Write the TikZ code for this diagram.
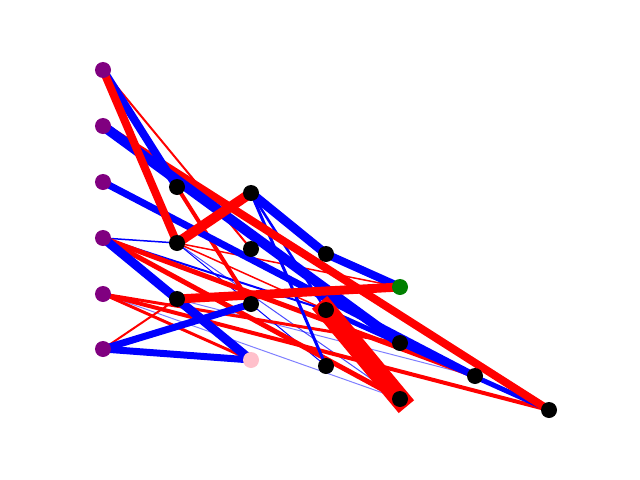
\documentclass[tikz,border=0pt]{standalone}
\usepackage{xcolor}
\definecolor{mplpurple}{RGB}{128,0,128}
\definecolor{mplgreen}{RGB}{0,128,0}
\definecolor{mplpink}{RGB}{255,192,203}
\usepackage{tikz}
\usetikzlibrary{backgrounds}

\begin{document}
\begin{tikzpicture}[
    x=0.025cm, y=-0.025cm,
    inpnode/.style={circle, fill=mplpurple, inner sep=0pt, minimum size=0.4cm},
    hidnode/.style={circle, fill=black, inner sep=0pt, minimum size=0.4cm},
    outnode/.style={circle, fill=mplgreen, inner sep=0pt, minimum size=0.4cm},
    pinknode/.style={circle, fill=mplpink, inner sep=0pt, minimum size=0.4cm},
    posedge/.style={draw=red, line cap=rect, line width=#1*0.709pt},
    negedge/.style={draw=blue, line cap=rect, line width=#1*0.709pt}
  ]
  \useasboundingbox (0,0) rectangle (640,480);

  % input column
  \node (p1) [inpnode] at (103,70) {};
  \node (p2) [inpnode] at (103,126) {};
  \node (p3) [inpnode] at (103,182) {};
  \node (p4) [inpnode] at (103,238) {};
  \node (p5) [inpnode] at (103,294) {};
  \node (p6) [inpnode] at (103,349) {};
  % hidden nodes
  \node (a1) [hidnode] at (177,187) {};
  \node (a2) [hidnode] at (177,243) {};
  \node (a3) [hidnode] at (177,299) {};
  \node (b1) [hidnode] at (251,193) {};
  \node (b2) [hidnode] at (251,249) {};
  \node (b3) [hidnode] at (251,304) {};
  \node (b4) [pinknode] at (251,360) {};
  \node (c1) [hidnode] at (326,254) {};
  \node (c2) [hidnode] at (326,310) {};
  \node (c3) [hidnode] at (326,366) {};
  \node (d1) [outnode] at (400,287) {};
  \node (d2) [hidnode] at (400,343) {};
  \node (d3) [hidnode] at (400,399) {};
  \node (e1) [hidnode] at (475,376) {};
  \node (f1) [hidnode] at (549,410) {};

  \begin{pgfonlayer}{background}
    % thin links
    \draw[negedge=1, opacity=0.5] (p5.center) -- (d3.center);
    \draw[negedge=1, opacity=0.5] (a3.center) -- (e1.center);
    \draw[negedge=1, opacity=0.7] (a2.center) -- (d3.center);
    \draw[negedge=1] (a2.center) -- (c3.center);
    \draw[posedge=1.5] (a2.center) -- (d1.center);
    \draw[posedge=1.5] (a2.center) -- (c2.center);
    \draw[negedge=1.5] (p4.center) -- (a2.center);
    \draw[negedge=2] (p4.center) -- (c2.center);
    \draw[posedge=2] (p1.center) -- (b2.center);
    \draw[posedge=2] (p6.center) -- (a3.center);
    % red links
    \draw[posedge=5] (p4.center) -- (d3.center);
    \draw[posedge=5] (p4.center) -- (e1.center);
    \draw[posedge=4] (p5.center) -- (f1.center);
    \draw[posedge=3] (p5.center) -- (b4.center);
    \draw[posedge=3] (p5.center) -- (d2.center);
    \draw[posedge=4] (a1.center) -- (b3.center);
    % blue links
    \draw[negedge=3] (b1.center) -- (c3.center);
    \draw[negedge=2.5] (b1.center) -- (c2.center);
    \draw[negedge=7] (p3.center) -- (e1.center);
    \draw[negedge=5] (c2.center) -- (f1.center);
    \draw[negedge=9] (p4.center) -- (b4.center);
    \draw[negedge=7] (p6.center) -- (b3.center);
    \draw[negedge=7] (p6.center) -- (b4.center);
    \draw[negedge=9] (b1.center) -- (c1.center);
    \draw[negedge=8] (c1.center) -- (d1.center);
    \draw[posedge=8] (p2.center) -- (f1.center);
    \draw[negedge=10] (p2.center) -- (d2.center);
    \draw[negedge=8] (p1.center) -- (a1.center);
    \draw[posedge=8] (p1.center) -- (a2.center);
    \draw[posedge=9] (a3.center) -- (d1.center);
    \draw[posedge=10] (a2.center) -- (b1.center);
    \draw[posedge=20] (c2.center) -- (d3.center);
  \end{pgfonlayer}

\end{tikzpicture}
\end{document}
